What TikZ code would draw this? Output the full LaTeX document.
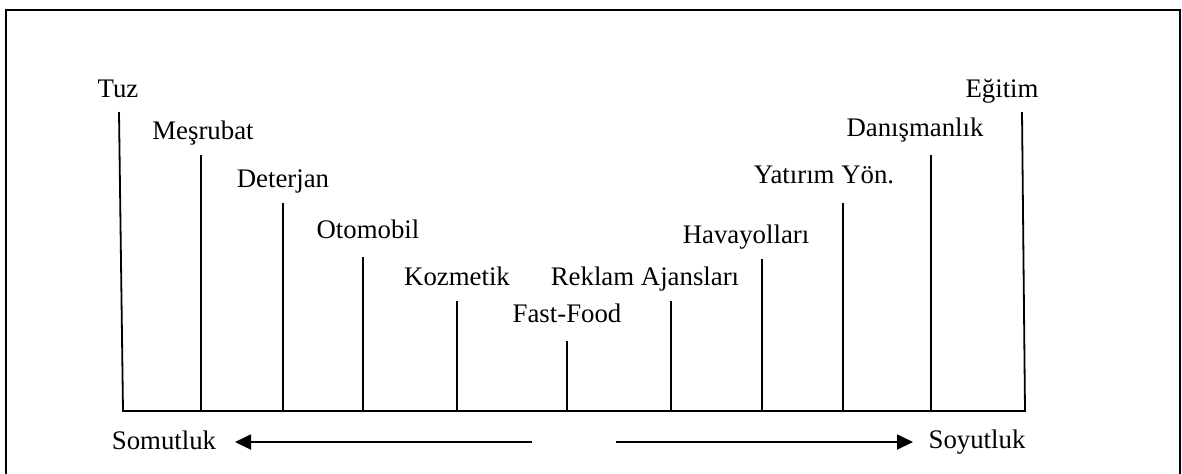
\documentclass[tikz,border=0pt]{standalone}
\usepackage{fontspec}
\setmainfont{Liberation Serif}
\usetikzlibrary{arrows.meta}
\begin{document}
\begin{tikzpicture}[x=0.5pt,y=-0.5pt,
  lbl/.style={anchor=base,inner sep=0pt,font=\fontsize{13.4}{15}\selectfont},
  bar/.style={line width=0.9pt},
  frame/.style={line width=1.1pt},
  scalearrow/.style={line width=0.9pt,-{Triangle[length=8pt,width=7.5pt]}}]
\useasboundingbox (0,0) rectangle (1182,473);
\begin{scope}
\clip (0,0) rectangle (1182,473);
\draw[frame] (6,10) rectangle (1180,490);
\end{scope}
% labels
\node[lbl] (tuz) at (118,97) {Tuz};
\node[lbl] (mes) at (203,139) {Meşrubat};
\node[lbl] (det) at (283,187) {Deterjan};
\node[lbl] (oto) at (368,238) {Otomobil};
\node[lbl] (koz) at (457,285) {Kozmetik};
\node[lbl] (ff) at (567,322) {Fast-Food};
\node[lbl] (rek) at (645,285) {Reklam Ajansları};
\node[lbl] (hav) at (746,243) {Havayolları};
\node[lbl] (yat) at (824,183) {Yatırım Yön.};
\node[lbl] (dan) at (915,136) {Danışmanlık};
\node[lbl] (egi) at (1002,97) {Eğitim};
\node[lbl] (som) at (164,449) {Somutluk};
\node[lbl] (soy) at (977,448) {Soyutluk};
% bar tops
\coordinate (t1) at (119,112);
\coordinate (t2) at (201,155);
\coordinate (t3) at (283,203);
\coordinate (t4) at (363,257);
\coordinate (t5) at (457,301);
\coordinate (t6) at (567,341);
\coordinate (t7) at (671,301);
\coordinate (t8) at (762,259);
\coordinate (t9) at (843,203);
\coordinate (t10) at (931,155);
\coordinate (t11) at (1022,112);
% baseline points
\coordinate (b1) at (123,411);
\coordinate (b2) at (201,411);
\coordinate (b3) at (283,411);
\coordinate (b4) at (363,411);
\coordinate (b5) at (457,411);
\coordinate (b6) at (567,411);
\coordinate (b7) at (671,411);
\coordinate (b8) at (762,411);
\coordinate (b9) at (843,411);
\coordinate (b10) at (931,411);
\coordinate (b11) at (1025,411);
\draw[bar] (t1) -- (b1) -- (b11) -- (t11);
\foreach \i in {2,...,10} \draw[bar] (t\i) -- (b\i);
% arrows
\coordinate (la) at (532,442);
\coordinate (lt) at (235,442);
\coordinate (ra) at (616,442);
\coordinate (rt) at (913,442);
\draw[scalearrow] (la) -- (lt);
\draw[scalearrow] (ra) -- (rt);
\end{tikzpicture}
\end{document}
